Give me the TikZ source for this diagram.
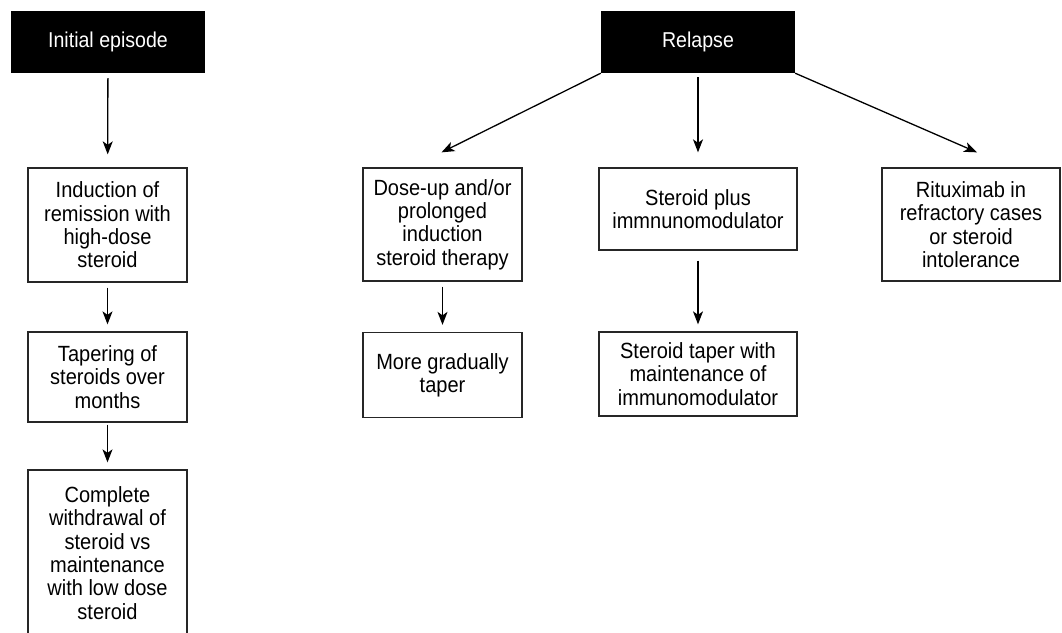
\documentclass[tikz,border=0pt]{standalone}
\usepackage{fontspec}
\setmainfont{Liberation Sans}[FakeStretch=0.91]
\usetikzlibrary{arrows.meta}
\tikzset{
  head/.style={fill=black, text=white, inner sep=0pt, font=\fontsize{21.5}{23.3}\selectfont},
  stepbox/.style={draw=black!85, line width=1.3pt, fill=white, inner sep=0pt, align=center, font=\fontsize{22}{23.3}\selectfont},
  conn/.style={line width=1.3pt, -{Stealth[length=13pt,width=10pt,inset=3.5pt]}}
}
\begin{document}
\begin{tikzpicture}[x=1pt,y=-1pt]
\useasboundingbox (0,0) rectangle (1062,632);
% headers
\node[head, minimum width=194pt, minimum height=62pt] (ie) at (108,42) {Initial episode};
\node[head, minimum width=194pt, minimum height=62pt] (rel) at (698,42) {Relapse};
% left column
\node[stepbox, minimum width=159pt, minimum height=114pt] (ind) at (107.5,225) {Induction of\\remission with\\high-dose\\steroid};
\node[stepbox, minimum width=159pt, minimum height=90pt] (tap) at (107.5,377) {Tapering of\\steroids over\\months};
\node[stepbox, minimum width=159pt, minimum height=166pt] (comp) at (107.5,553) {Complete\\withdrawal of\\steroid vs\\maintenance\\with low dose\\steroid};
% relapse branches
\node[stepbox, minimum width=159pt, minimum height=113pt] (dose) at (442.5,224.5) {Dose-up and/or\\prolonged\\induction\\steroid therapy};
\node[stepbox, minimum width=159pt, minimum height=85pt] (grad) at (442.5,375) {More gradually\\taper};
\node[stepbox, minimum width=198pt, minimum height=82pt] (sp) at (698,209) {Steroid plus\\immnunomodulator};
\node[stepbox, minimum width=198pt, minimum height=84pt] (stp) at (698,374) {Steroid taper with\\maintenance of\\immunomodulator};
\node[stepbox, minimum width=178pt, minimum height=113pt] (rit) at (971,224.5) {Rituximab in\\refractory cases\\or steroid\\intolerance};
% free ends of diagonal arrows
\coordinate (t1) at ([xshift=-1pt,yshift=15pt]dose.north);
\coordinate (t3) at ([xshift=6pt,yshift=15pt]rit.north);
% connectors
\draw[conn, shorten <=5pt, shorten >=13pt] (ie) -- (ind);
\draw[conn, shorten <=5pt, shorten >=7pt] (ind) -- (tap);
\draw[conn, shorten <=2pt, shorten >=7pt] (tap) -- (comp);
\draw[conn] (rel.south west) -- (t1);
\draw[conn, shorten <=4pt, shorten >=15pt] (rel) -- (sp);
\draw[conn] (rel.south east) -- (t3);
\draw[conn, shorten <=5pt, shorten >=7pt] (dose) -- (grad);
\draw[conn, shorten <=10pt, shorten >=7pt] (sp) -- (stp);
\end{tikzpicture}
\end{document}
